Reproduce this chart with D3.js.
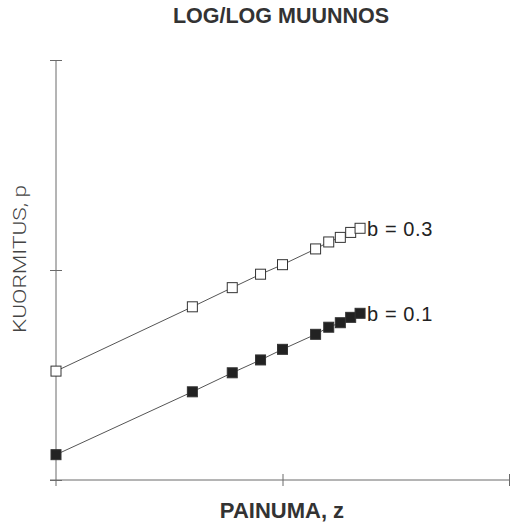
<!DOCTYPE html>
<html>
<head>
<meta charset="utf-8">
<script src="https://cdn.jsdelivr.net/npm/d3@7/dist/d3.min.js"></script>
<style>
  html, body { margin: 0; padding: 0; background: #fff; }
  svg { display: block; }
</style>
</head>
<body>
<script>
// Deflection z (log axis) shared by both curves
const deflection = [1, 4, 6, 8, 10, 14, 16, 18, 20, 22];
// Load p for the two exponents
const loadB03 = [3.30, 6.68, 8.24, 9.55, 10.6, 12.6, 13.6, 14.3, 15.1, 15.8];
const loadB01 = [1.32, 2.63, 3.24, 3.73, 4.19, 4.94, 5.34, 5.61, 5.95, 6.22];
const seriesNames = ["b = 0.3", "b = 0.1"];
const xTicks = [1, 10, 100];
const yTicks = [1, 10, 100];

const W = 518, H = 523;
const margin = { left: 56, right: 9, top: 60, bottom: 43 };

const svg = d3.select("body").append("svg")
  .attr("width", W).attr("height", H);

const x = d3.scaleLog().domain([1, 100]).range([margin.left, W - margin.right]);
const y = d3.scaleLog().domain([1, 100]).range([H - margin.bottom, margin.top]);

const axisColor = "#6a6a6a";

// Y axis with ticks crossing the line
const gy = svg.append("g")
  .attr("transform", `translate(${margin.left},0)`)
  .call(d3.axisLeft(y).tickValues(yTicks).tickFormat("").tickSizeOuter(0));
gy.select(".domain").attr("stroke", axisColor).attr("d", `M0,${y(100)}V${y(1) + 6}`);
gy.selectAll(".tick line").attr("stroke", axisColor).attr("x1", -6).attr("x2", 6);

// X axis
const gx = svg.append("g")
  .attr("transform", `translate(0,${y(1)})`)
  .call(d3.axisBottom(x).tickValues(xTicks).tickFormat("").tickSizeOuter(0));
gx.select(".domain").attr("stroke", axisColor).attr("d", `M${x(1) - 6},0H${x(100)}`);
gx.selectAll(".tick line").attr("stroke", axisColor).attr("y1", -6).attr("y2", 6);
gx.selectAll(".tick").filter(d => d === 1).select("line").remove();

const line = d3.line().x(d => x(d[0])).y(d => y(d[1]));
const sq = 10;

const series = [
  { name: seriesNames[0], values: loadB03, fill: "#fff" },
  { name: seriesNames[1], values: loadB01, fill: "#222" }
];

series.forEach(s => {
  const pts = deflection.map((z, i) => [z, s.values[i]]);
  svg.append("path")
    .attr("d", line(pts))
    .attr("fill", "none")
    .attr("stroke", "#555")
    .attr("stroke-width", 1);
  svg.append("g").selectAll("rect")
    .data(pts)
    .join("rect")
    .attr("x", d => x(d[0]) - sq / 2)
    .attr("y", d => y(d[1]) - sq / 2)
    .attr("width", sq).attr("height", sq)
    .attr("fill", s.fill)
    .attr("stroke", "#333")
    .attr("stroke-width", 1);
  const last = pts[pts.length - 1];
  svg.append("text")
    .attr("x", x(last[0]) + 7)
    .attr("y", y(last[1]) + 8)
    .attr("font-family", "Liberation Sans, Arial, sans-serif")
    .attr("font-size", 20)
    .attr("letter-spacing", 0.6)
    .attr("fill", "#222")
    .text(s.name);
});

// Title
svg.append("text")
  .attr("x", 281).attr("y", 23)
  .attr("text-anchor", "middle")
  .attr("font-family", "Liberation Sans, Arial, sans-serif")
  .attr("font-weight", "bold")
  .attr("font-size", 21.5)
  .attr("fill", "#333")
  .text("LOG/LOG MUUNNOS");

// X axis title
svg.append("text")
  .attr("x", 282).attr("y", 518)
  .attr("text-anchor", "middle")
  .attr("font-family", "Liberation Sans, Arial, sans-serif")
  .attr("font-weight", "bold")
  .attr("font-size", 22)
  .attr("fill", "#333")
  .text("PAINUMA, z");

// Y axis title
svg.append("text")
  .attr("transform", "translate(26,259) rotate(-90)")
  .attr("text-anchor", "middle")
  .attr("font-family", "Liberation Sans Narrow, Roboto, sans-serif")
  .attr("font-weight", 300)
  .attr("font-size", 18)
  .attr("fill", "#444")
  .attr("textLength", 148)
  .attr("lengthAdjust", "spacingAndGlyphs")
  .text("KUORMITUS, p");
</script>
</body>
</html>
